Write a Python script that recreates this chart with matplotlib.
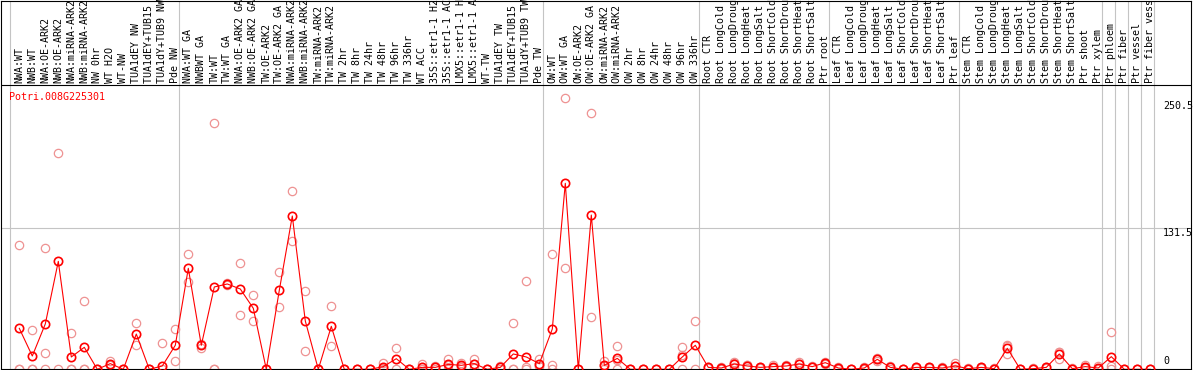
import numpy as np
import matplotlib
matplotlib.use("Agg")
import matplotlib.pyplot as plt

nan = np.nan

# sample groups (column labels, read top-down in the header)
grp_nw = ["NWA:WT", "NWB:WT", "NWA:OE-ARK2", "NWB:OE-ARK2", "NWA:miRNA-ARK2",
          "NWB:miRNA-ARK2", "NW 0hr", "WT H2O", "WT-NW", "TUA1dEY NW",
          "TUA1dEY+TUB15 NW", "TUA1dY+TUB9 NW", "Pde NW"]
grp_tw = ["NWA:WT GA", "NWBWT GA", "TW:WT", "TW:WT GA", "NWA:OE-ARK2 GA",
          "NWB:OE-ARK2 GA", "TW:OE-ARK2", "TW:OE-ARK2 GA", "NWA:miRNA-ARK2 GA",
          "NWB:miRNA-ARK2 GA", "TW:miRNA-ARK2", "TW:miRNA-ARK2 GA", "TW 2hr",
          "TW 8hr", "TW 24hr", "TW 48hr", "TW 96hr", "TW 336hr", "WT ACC",
          "35S::etr1-1 H2O", "35S::etr1-1 ACC", "LMX5::etr1-1 H2O",
          "LMX5::etr1-1 ACC", "WT-TW", "TUA1dEY TW", "TUA1dEY+TUB15 TW",
          "TUA1dY+TUB9 TW", "Pde TW"]
grp_ow = ["OW:WT", "OW:WT GA", "OW:OE-ARK2", "OW:OE-ARK2 GA", "OW:miRNA-ARK2",
          "OW:miRNA-ARK2 GA", "OW 2hr", "OW 8hr", "OW 24hr", "OW 48hr",
          "OW 96hr", "OW 336hr"]
stress = ["CTR", "LongCold", "LongDrought", "LongHeat", "LongSalt",
          "ShortCold", "ShortDrought", "ShortHeat", "ShortSalt"]
grp_root = ["Root " + s for s in stress] + ["Ptr root"]
grp_leaf = ["Leaf " + s for s in stress] + ["Ptr leaf"]
grp_stem = ["Stem " + s for s in stress] + ["Ptr shoot", "Ptr xylem"]
grp_ptr = ["Ptr phloem", "Ptr fiber", "Ptr vessel", "Ptr fiber vessel"]

groups = [grp_nw, grp_tw, grp_ow, grp_root, grp_leaf, grp_stem,
          grp_ptr[:1], grp_ptr[1:2], grp_ptr[2:3], grp_ptr[3:]]
labels = [l for g in groups for l in g]

gene = "Potri.008G225301"

mean_vals = [38.2, 12.4, 42.3, 100.7, 11.5, 20.5, 0, 5.3, 0, 32.9, 0, 3.1, 22.4,
             94.2, 22.4, 76.8, 79.6, 74.9, 56.9, 0, 73.7, 143.0, 45.1, 0, 40.1,
             0, 0, 0, 2.5, 9.9, 0, 1.8, 1.8, 4.6, 3.7, 5.3, 0, 1.8, 14.3, 11.5,
             5.3,
             37.6, 173.5, 0, 143.9, 3.7, 10.2, 0, 0, 0, 0, 11.5, 22.4,
             1.8, 1.2, 4.9, 3.1, 1.8, 2.5, 3.1, 4.9, 2.5, 6.2, 1.2, 0,
             1.2, 9.3, 1.8, 0, 1.8, 1.8, 1.2, 3.1, 0.6, 1.8, 0.6, 19.6, 0, 0.6,
             1.8, 14.3, 0.6, 2.5, 1.2, 11.8, 0, 0, 0]

rep_a = [115.6, 36.7, 113.2, 201.5, 33.6, 63.4, 0, 7.7, 0, 43.2, 0, 24.2, 37.3,
         107.2, 23.5, 229.4, 80.5, 99.2, 69.0, 0, 90.5, 166.0, 73.0, 0, 58.7,
         0, 0, 0, 6.2, 19.9, 0, 4.9, 3.1, 9.9, 6.2, 9.9, 0, 3.1, 43.2, 82.4,
         9.9,
         107.2, 252.8, 0, 238.8, 7.7, 21.7, 0, 0, 0, 0, 21.1, 44.7,
         2.5, 1.8, 7.1, 4.0, 2.5, 3.7, 3.7, 7.1, 3.1, 7.1, 1.8, 0,
         1.8, 10.2, 3.1, 0, 2.5, 2.5, 1.8, 5.6, 1.0, 2.5, 1.0, 22.7, 0, 1.0,
         2.5, 16.4, 1.0, 3.7, 3.1, 34.5, 0, 0, 0]

rep_b = [0, 0, 14.9, 0, 0, 0, 0, 4.0, 0, 22.4, 0, 0, 7.7,
         81.4, 20.0, 0, 79.0, 50.3, 44.7, 0, 57.8, 119.4, 17.1, 0, 21.7,
         0, 0, 0, 0, 0, 0, 0, 0.5, 0, 1.8, 1.2, 0, 0, 0, 2.5,
         3.1,
         3.7, 94.2, 0, 48.5, 0, 0, 0, 0, 0, 0, 13.0, 0,
         1.2, 0.6, 1.8, 1.2, 1.1, 1.3, 2.5, 2.5, 1.9, 5.3, 0.6, 0,
         0.6, 8.1, 0.5, 0, 1.1, 1.1, 0.6, 0.6, 0.2, 1.1, 0.2, 14.3, 0, 0.2,
         1.1, 9.9, 0.2, 1.3, 0, 3.1, 0, 0, 0]

rep_c = [0, 0, 0, nan, 0, 0, nan, 4.2, nan, nan, nan, nan, nan,
         nan, nan, 0, nan, nan, nan, nan, nan, nan, nan, nan, nan,
         nan, nan, nan, 1.3, nan, nan, 0.5, 1.8, 3.9, 3.1, 4.8, nan, 2.3, 0, 0,
         2.9,
         0, nan, nan, nan, 3.4, 8.9, nan, nan, nan, nan, 0, nan,
         nan, nan, 5.8, 4.1, nan, nan, nan, 5.1, nan, nan, nan, nan,
         nan, 9.6, nan, nan, nan, nan, nan, nan, nan, nan, nan, 21.8, nan, nan,
         nan, 16.6, nan, nan, 0.5, 0, nan, nan, nan]

ytick_vals = [250.5, 131.5, 0]

# ---- layout (pixel based) ----
W, H = 1194, 370
PX_PER_UNIT = 1.072     # vertical pixels per expression unit
Y0_PX = 369.3           # pixel row of value 0
COL_PX = 13.0           # column width
X0_PX = 10.0            # first group boundary


def y_of(px):
    return (Y0_PX - px) / PX_PER_UNIT


def x_of(px):
    return (px - X0_PX) / COL_PX


fig = plt.figure(figsize=(W / 100, H / 100), dpi=100)
ax = fig.add_axes([1 / W, (H - Y0_PX) / H, 1190 / W, (Y0_PX - 0.5) / H])
ax.set_xlim(x_of(1), x_of(1191))
ax.set_ylim(0, y_of(0.5))
ax.set_xticks([])
ax.set_yticks([])
for sp in ax.spines.values():
    sp.set_linewidth(0.8)
    sp.set_color("black")

mono = "DejaVu Sans Mono"
fs = 7.2
grid_c = "#c4c4c4"

# group boundaries
bounds = np.cumsum([0] + [len(g) for g in groups])
for b in bounds:
    ax.axvline(b, color=grid_c, lw=0.8, zorder=0)
ax.axhline(131.5, color=grid_c, lw=0.8, zorder=0)
ax.axhline(y_of(85), color="black", lw=0.8, zorder=1)

xs = np.arange(len(labels)) + (19.3 - X0_PX) / COL_PX

# header labels
for x, lab in zip(xs, labels):
    ax.text(x, y_of(83), lab, rotation=90, ha="center", va="bottom",
            family=mono, fontsize=fs, color="black", clip_on=False)

for reps in (rep_a, rep_b, rep_c):
    ax.plot(xs, reps, linestyle="none", marker="o", markersize=6.0,
            markerfacecolor="none", markeredgecolor="#ee9292",
            markeredgewidth=0.9, zorder=2)

ax.plot(xs, mean_vals, color="red", lw=0.8, marker="o", markersize=6.0,
        markerfacecolor="none", markeredgecolor="red", markeredgewidth=1.2,
        zorder=3)

ax.text(x_of(9.3), y_of(92), gene, color="red", family=mono, fontsize=fs,
        ha="left", va="top")

# value labels on the right
for v in ytick_vals:
    if v > 0:
        ax.text(x_of(1163), v, f"{v}", family=mono, fontsize=fs,
                ha="left", va="top")
    else:
        ax.text(x_of(1163), y_of(366), "0", family=mono, fontsize=fs,
                ha="left", va="bottom")

fig.savefig("out.png", dpi=100)
